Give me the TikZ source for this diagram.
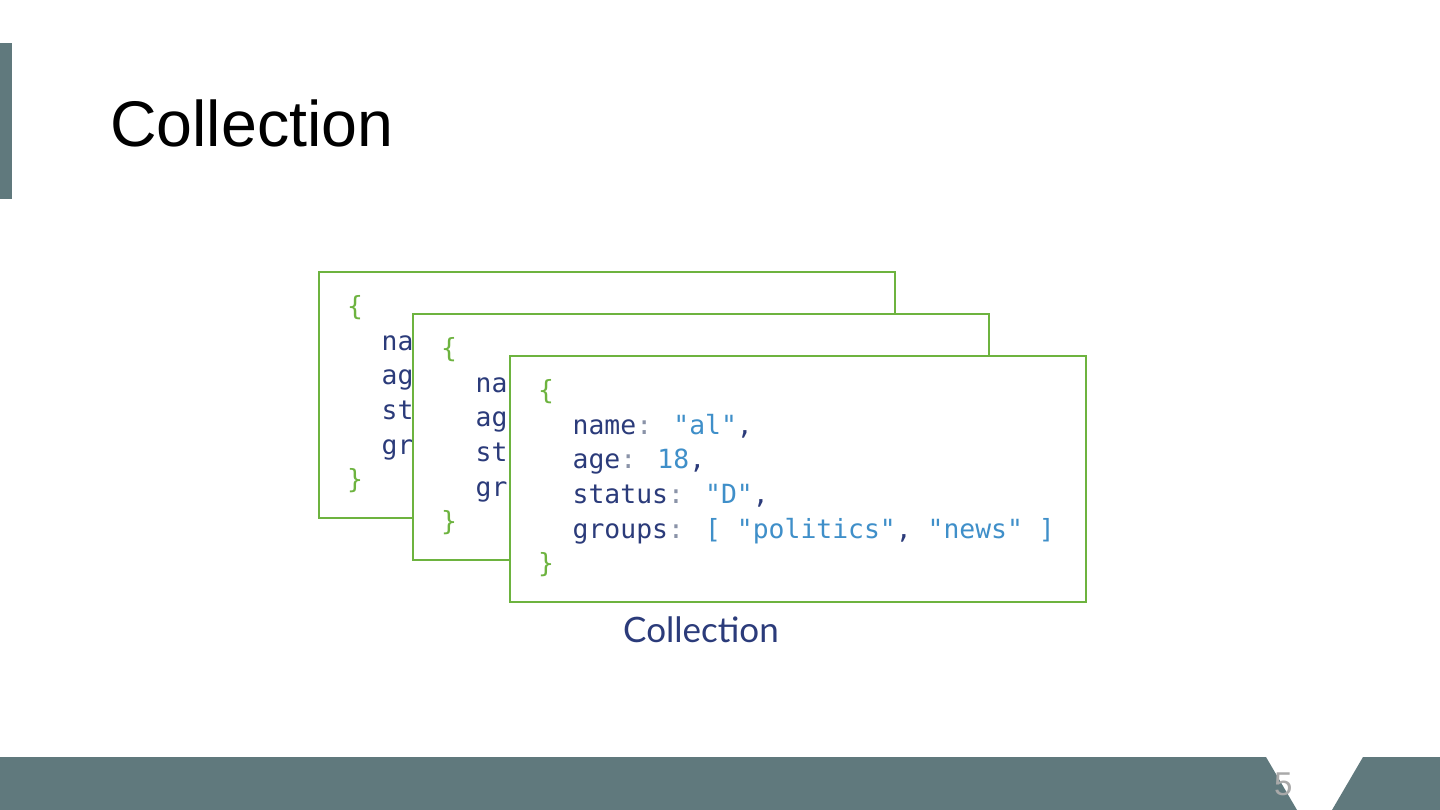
\documentclass[tikz,border=0pt]{standalone}
\usepackage{fontspec}
\setmainfont{Liberation Sans}
\newfontfamily\codefont{DejaVu Sans Mono}
\newfontfamily\capfont{Lato}

\definecolor{slidebar}{HTML}{60797D}
\definecolor{docgreen}{HTML}{6DB33F}
\definecolor{keynavy}{HTML}{2B3B7A}
\definecolor{valblue}{HTML}{3F8FC9}
\definecolor{colongray}{HTML}{8A93A8}
\definecolor{pagegray}{HTML}{A9A9A9}

% colour helpers for the document text
\newcommand{\kw}[1]{\textcolor{keynavy}{#1}}
\newcommand{\vl}[1]{\textcolor{valblue}{#1}}
\newcommand{\cl}{\textcolor{colongray}{:}}
\newcommand{\br}[1]{\textcolor{docgreen}{#1}}

\begin{document}
\begin{tikzpicture}[x=1pt, y=-1pt,
    card/.style={draw=docgreen, line width=2pt, fill=white, anchor=north west,
        inner sep=0pt, minimum width=576pt, minimum height=246pt},
    code/.style={anchor=base west, inner sep=0pt, font=\codefont\fontsize{26.4}{30}\selectfont}]
    \fill[white] (0,0) rectangle (1440,810);
    \useasboundingbox (0,0) rectangle (1440,810);

    % Slide frame
    \fill[slidebar] (0,43) rectangle (12,199);
    \fill[slidebar] (0,757) -- (1266,757) -- (1297,810) -- (0,810) -- cycle;
    \fill[slidebar] (1363,757) -- (1440,757) -- (1440,810) -- (1332,810) -- cycle;
    \node[anchor=base west, inner sep=0pt, font=\fontsize{64.5}{70}\selectfont] (title) at (110,147) {Collection};
    \node[anchor=base west, inner sep=0pt, text=pagegray, font=\fontsize{33}{36}\selectfont] (pagenum) at (1274,795) {5};

    % Card 1 (mostly hidden)
    \begin{scope}[shift={(318,271)}]
        \node[card] (card1) at (0,0) {};
        \node[code] (c1open) at (29,44.5) {\br{\{}};
        \node[code] (c1name) at (63.5,79) {\kw{na}};
        \node[code] (c1age) at (63.5,113.7) {\kw{ag}};
        \node[code] (c1status) at (63.5,148.3) {\kw{st}};
        \node[code] (c1groups) at (63.5,183) {\kw{gr}};
        \node[code] (c1close) at (29,217.5) {\br{\}}};
    \end{scope}

    % Card 2 (mostly hidden)
    \begin{scope}[shift={(412,313)}]
        \node[card] (card2) at (0,0) {};
        \node[code] (c2open) at (29,44.5) {\br{\{}};
        \node[code] (c2name) at (63.5,79) {\kw{na}};
        \node[code] (c2age) at (63.5,113.7) {\kw{ag}};
        \node[code] (c2status) at (63.5,148.3) {\kw{st}};
        \node[code] (c2groups) at (63.5,183) {\kw{gr}};
        \node[code] (c2close) at (29,217.5) {\br{\}}};
    \end{scope}

    % Card 3
    \begin{scope}[shift={(509,355)}]
        \node[card] (card3) at (0,0) {};
        \node[code] (c3open) at (29,44.5) {\br{\{}};
        \node[code] (c3name) at (63.5,79) {\kw{name}\cl{} \vl{"al"}\kw{,}};
        \node[code] (c3age) at (63.5,113.7) {\kw{age}\cl{} \vl{18}\kw{,}};
        \node[code] (c3status) at (63.5,148.3) {\kw{status}\cl{} \vl{"D"}\kw{,}};
        \node[code] (c3groups) at (63.5,183) {\kw{groups}\cl{} \vl{[ "politics"}\kw{,} \vl{"news" ]}};
        \node[code] (c3close) at (29,217.5) {\br{\}}};
    \end{scope}

    \node[anchor=base west, inner sep=0pt, text=keynavy, font=\capfont\fontsize{35}{40}\selectfont] (caption) at (623,642) {Collection};
\end{tikzpicture}
\end{document}
